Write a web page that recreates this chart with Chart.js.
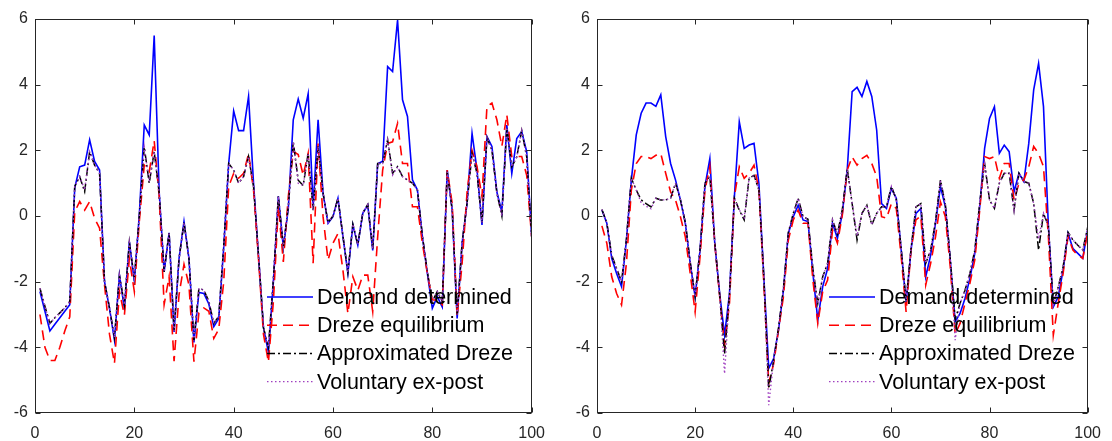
<!DOCTYPE html>
<html>
<head>
<meta charset="utf-8">
<script src="https://cdn.jsdelivr.net/npm/chart.js@4"></script>
<style>
  body { margin: 0; background: #fff; }
  .panel { position: absolute; top: 0; width: 556px; height: 441px; }
</style>
</head>
<body>
<div class="panel" style="left:0"><canvas id="leftChart" width="556" height="441"></canvas></div>
<div class="panel" style="left:556px"><canvas id="rightChart" width="556" height="441"></canvas></div>
<script>
const periods = [1,2,3,4,5,6,7,8,9,10,11,12,13,14,15,16,17,18,19,20,21,22,23,24,25,26,27,28,29,30,31,32,33,34,35,36,37,38,39,40,41,42,43,44,45,46,47,48,49,50,51,52,53,54,55,56,57,58,59,60,61,62,63,64,65,66,67,68,69,70,71,72,73,74,75,76,77,78,79,80,81,82,83,84,85,86,87,88,89,90,91,92,93,94,95,96,97,98,99,100];
const xTicks = [0, 20, 40, 60, 80, 100];
const yTicks = [-6, -4, -2, 0, 2, 4, 6];
const seriesNames = ['Demand determined', 'Dreze equilibrium', 'Approximated Dreze', 'Voluntary ex-post'];

// left panel
const demandL = [-2.3,-2.9,-3.5,-3.3,-3.1,-2.9,-2.7,0.86,1.5,1.55,2.32,1.66,1.4,-2.0,-2.81,-3.78,-1.8,-2.81,-0.78,-2.0,0.03,2.77,2.47,5.5,0.74,-1.7,-0.51,-3.53,-1.3,-0.17,-1.3,-3.85,-2.33,-2.36,-2.68,-3.37,-3.12,-0.95,1.6,3.2,2.6,2.6,3.64,1.0,-1.2,-3.4,-4.15,-2.0,0.6,-0.95,0.22,2.93,3.56,2.98,3.72,0.28,2.93,0.69,-0.22,-0.02,0.54,-0.63,-1.75,-0.27,-0.89,0.08,0.33,-1.05,1.59,1.67,4.55,4.4,5.97,3.54,3.03,1.1,0.79,-0.63,-1.75,-2.81,-2.46,-2.77,1.4,0.18,-3.12,-0.83,0.39,2.52,1.4,-0.27,2.42,2.12,0.73,0.12,2.77,1.3,2.36,2.57,1.96,-0.63];
const drezeL = [-3.0,-4.0,-4.4,-4.4,-4.0,-3.5,-3.07,0.13,0.44,0.18,0.44,-0.07,-0.37,-2.1,-3.6,-4.49,-2.3,-3.02,-1.3,-2.3,-0.17,1.55,1.35,2.29,0.6,-2.7,-1.85,-4.42,-2.4,-1.47,-2.1,-4.44,-2.95,-2.8,-2.9,-3.73,-3.45,-2.0,0.9,1.3,1.15,1.3,1.9,0.8,-1.3,-3.6,-4.45,-2.6,0.3,-1.4,0.59,1.97,1.87,1.24,1.91,-1.44,2.21,-0.02,-1.34,-0.83,-0.53,-1.65,-2.97,-1.85,-2.26,-1.8,-1.8,-2.91,-0.63,1.4,2.21,2.26,2.82,1.6,1.6,0.28,0.28,-0.83,-1.75,-2.56,-2.56,-2.7,1.4,0.38,-3.07,-1.44,0.73,2.0,1.5,0.59,3.34,3.44,2.93,2.12,3.08,1.81,1.81,1.81,1.24,-0.63];
const approxL = [-2.2,-2.75,-3.27,-3.1,-2.95,-2.8,-2.6,0.9,1.2,0.74,1.96,1.55,1.3,-2.0,-2.8,-3.7,-1.8,-2.7,-0.8,-1.9,0.0,2.1,1.0,1.96,0.7,-1.7,-0.5,-3.5,-1.3,-0.2,-1.3,-3.8,-2.2,-2.26,-2.6,-3.27,-3.05,-0.9,1.6,1.4,1.0,1.2,1.81,0.9,-1.2,-3.4,-4.0,-1.9,0.6,-0.95,0.28,2.26,1.09,0.93,1.91,0.18,2.12,0.7,-0.2,0.0,0.54,-0.6,-1.72,-0.25,-0.87,0.1,0.35,-1.0,1.6,1.6,2.32,1.3,1.5,1.2,1.1,1.0,0.79,-0.6,-1.7,-2.6,-2.3,-2.6,1.35,0.2,-3.0,-0.8,0.4,1.9,1.3,-0.2,2.4,2.0,0.7,0.0,2.7,1.5,1.8,2.6,1.8,-0.6];
const voluntaryL = [-2.2,-2.75,-3.27,-3.1,-2.95,-2.8,-2.6,0.9,1.2,0.8,1.96,1.55,1.3,-2.0,-2.8,-3.7,-1.8,-2.7,-0.8,-1.9,0.0,2.1,1.05,1.96,0.7,-1.7,-0.5,-3.5,-1.3,-0.2,-1.3,-3.8,-2.2,-2.26,-2.6,-3.27,-3.05,-0.9,1.6,1.4,1.0,1.2,1.81,0.9,-1.2,-3.4,-4.0,-1.9,0.6,-0.95,0.28,2.26,1.0,0.93,1.91,0.18,2.12,0.7,-0.2,0.0,0.54,-0.6,-1.72,-0.25,-0.87,0.1,0.35,-1.0,1.6,1.6,2.32,1.25,1.5,1.2,1.1,1.0,0.79,-0.6,-1.7,-2.6,-2.3,-2.6,1.35,0.2,-3.0,-0.8,0.4,1.9,1.3,-0.2,2.4,2.0,0.7,0.0,2.7,1.5,1.8,2.6,1.8,-0.6];

// right panel
const demandR = [0.18,-0.22,-1.29,-1.75,-2.15,-0.73,1.1,2.47,3.13,3.44,3.44,3.34,3.69,2.42,1.6,1.1,0.49,-0.22,-1.44,-2.46,-1.04,0.9,1.75,-0.83,-2.36,-3.63,-2.36,0.59,2.87,2.06,2.16,2.21,0.99,-1.85,-4.64,-4.34,-3.47,-2.26,-0.53,-0.02,0.33,-0.12,-0.17,-1.75,-3.17,-2.15,-1.6,-0.22,-0.68,0.08,1.4,3.79,3.92,3.64,4.1,3.64,2.62,0.38,0.23,0.84,0.54,-1.04,-2.66,-1.04,0.08,0.23,-1.85,-1.19,-0.22,0.9,0.28,-1.34,-3.22,-2.97,-2.51,-1.9,-1.14,0.28,2.06,2.97,3.33,1.91,2.16,1.96,0.74,1.3,1.05,2.21,3.84,4.65,3.33,-0.33,-2.77,-2.46,-1.65,-0.53,-0.99,-1.14,-1.29,-0.43];
const drezeR = [-0.3,-0.83,-1.85,-2.36,-2.71,-1.44,0.79,1.6,1.81,1.81,1.75,1.85,1.9,1.3,0.73,0.49,-0.02,-0.63,-1.75,-2.92,-1.24,0.79,1.5,-0.83,-2.45,-3.94,-2.66,0.59,1.5,1.15,1.3,1.55,0.79,-2.05,-5.1,-4.5,-3.47,-2.45,-0.73,-0.12,0.18,-0.22,-0.22,-1.95,-3.27,-2.3,-1.95,-0.43,-0.83,0.03,1.4,1.8,1.55,1.75,1.85,1.6,1.2,-0.02,-0.07,0.38,0.23,-1.24,-2.92,-1.04,-0.12,0.0,-2.1,-1.44,-0.63,0.43,-0.02,-1.55,-3.6,-3.27,-2.66,-2.05,-1.34,0.18,1.81,1.75,1.81,1.15,1.6,1.6,0.49,0.99,1.1,1.5,2.12,1.9,1.5,-0.63,-3.63,-2.66,-1.75,-0.63,-1.04,-1.19,-1.29,-0.5];
const approxR = [0.2,-0.2,-1.2,-1.6,-2.0,-0.7,1.15,0.79,0.49,0.38,0.28,0.54,0.49,0.49,0.54,1.0,0.5,-0.2,-1.4,-2.46,-1.0,1.0,1.2,-0.8,-2.4,-4.2,-2.4,0.54,0.18,-0.12,1.15,1.24,0.79,-1.85,-5.26,-4.4,-3.4,-2.2,-0.5,0.08,0.54,-0.02,-0.1,-1.6,-2.66,-1.85,-1.44,-0.12,-0.55,0.2,1.45,0.38,-0.73,0.08,0.33,-0.27,0.08,0.28,0.28,0.9,0.5,-1.0,-2.6,-1.0,0.28,0.38,-1.44,-1.04,-0.15,1.1,0.35,-1.3,-3.15,-2.66,-2.26,-1.75,-1.04,0.4,1.6,0.49,0.23,1.0,1.3,1.3,0.18,1.3,1.05,1.0,0.38,-1.04,0.08,-0.3,-2.7,-2.16,-1.55,-0.5,-0.73,-0.89,-1.04,-0.35];
const voluntaryR = [0.2,-0.2,-1.2,-1.6,-2.0,-0.7,1.15,0.79,0.4,0.3,0.22,0.54,0.49,0.49,0.54,1.0,0.5,-0.2,-1.4,-2.46,-1.0,1.0,1.2,-0.8,-2.4,-4.8,-2.4,0.54,0.18,-0.05,1.15,1.24,0.79,-1.85,-5.76,-4.4,-3.4,-2.2,-0.5,0.08,0.54,-0.02,-0.1,-1.6,-2.66,-1.85,-1.44,-0.12,-0.55,0.2,1.45,0.38,-0.6,0.08,0.33,-0.27,0.08,0.28,0.28,0.9,0.5,-1.0,-2.6,-1.0,0.28,0.38,-1.44,-1.04,-0.15,1.1,0.35,-1.3,-3.78,-2.66,-2.26,-1.75,-1.04,0.4,1.6,0.49,0.23,1.0,1.3,1.3,0.18,1.3,1.05,1.0,0.38,-0.7,0.08,-0.3,-2.7,-2.16,-1.55,-0.5,-0.73,-0.89,-1.04,-0.35];

const FONT = "'Liberation Sans', Arial, Helvetica, sans-serif";
const AXIS = '#262626';

const styles = [
  { borderColor: '#0000ff', borderWidth: 1.6, borderDash: [], order: 4 },
  { borderColor: '#ff0000', borderWidth: 1.6, borderDash: [10, 6], order: 3 },
  { borderColor: '#000000', borderWidth: 1.5, borderDash: [8, 3, 2, 3], order: 2 },
  { borderColor: '#a040c0', borderWidth: 1.4, borderDash: [1.5, 2.5], order: 1 }
];

// box around the plot with inward ticks, like the original figure
const framePlugin = {
  id: 'frame',
  afterDraw(chart) {
    const { ctx, chartArea: a, scales: { x, y } } = chart;
    ctx.save();
    ctx.strokeStyle = AXIS;
    ctx.lineWidth = 1;
    ctx.setLineDash([]);
    const L = Math.round(a.left) + 0.5, R = Math.round(a.right) - 0.5;
    const T = Math.round(a.top) + 0.5, B = Math.round(a.bottom) - 0.5;
    ctx.strokeRect(L, T, R - L, B - T);
    ctx.beginPath();
    xTicks.forEach(v => {
      const px = Math.round(x.getPixelForValue(v)) + 0.5;
      ctx.moveTo(px, B); ctx.lineTo(px, B - 5);
      ctx.moveTo(px, T); ctx.lineTo(px, T + 5);
    });
    yTicks.forEach(v => {
      const py = Math.round(y.getPixelForValue(v)) + 0.5;
      ctx.moveTo(L, py); ctx.lineTo(L + 5, py);
      ctx.moveTo(R, py); ctx.lineTo(R - 5, py);
    });
    ctx.stroke();

    // legend inside the plot, lower right, no box
    ctx.font = '21.5px ' + FONT;
    ctx.fillStyle = '#000';
    ctx.textBaseline = 'middle';
    chart.data.datasets.forEach((ds, i) => {
      const ly = a.top + 278 + i * 28.2;
      const lx = a.left + 232;
      ctx.strokeStyle = ds.borderColor;
      ctx.lineWidth = ds.borderWidth;
      ctx.setLineDash(ds.borderDash);
      ctx.beginPath();
      ctx.moveTo(lx, ly);
      ctx.lineTo(lx + 46, ly);
      ctx.stroke();
      ctx.fillText(ds.label, lx + 50, ly + 1);
    });
    ctx.restore();
  }
};

function makeChart(id, series, yWidth, padRight) {
  const ctx = document.getElementById(id).getContext('2d');
  return new Chart(ctx, {
    type: 'line',
    data: {
      labels: periods,
      datasets: series.map((vals, i) => ({
        label: seriesNames[i],
        data: vals.map((v, k) => ({ x: periods[k], y: v })),
        borderColor: styles[i].borderColor,
        borderWidth: styles[i].borderWidth,
        borderDash: styles[i].borderDash,
        order: styles[i].order,
        pointRadius: 0,
        tension: 0,
        fill: false
      }))
    },
    options: {
      responsive: false,
      animation: false,
      layout: { padding: { left: 0, right: padRight, top: 19, bottom: 0 } },
      plugins: { legend: { display: false }, tooltip: { enabled: false } },
      scales: {
        x: {
          type: 'linear', min: 0, max: 100,
          afterBuildTicks: s => { s.ticks = xTicks.map(v => ({ value: v })); },
          afterFit: s => { s.height = 28; },
          grid: { display: false, drawTicks: false },
          border: { display: false },
          ticks: { color: AXIS, font: { family: FONT, size: 16 }, padding: 11, maxRotation: 0 }
        },
        y: {
          type: 'linear', min: -6, max: 6,
          afterBuildTicks: s => { s.ticks = yTicks.map(v => ({ value: v })); },
          afterFit: s => { s.width = yWidth; },
          grid: { display: false, drawTicks: false },
          border: { display: false },
          ticks: { color: AXIS, font: { family: FONT, size: 16 }, padding: 7 }
        }
      }
    },
    plugins: [framePlugin]
  });
}

makeChart('leftChart', [demandL, drezeL, approxL, voluntaryL], 35, 24);
makeChart('rightChart', [demandR, drezeR, approxR, voluntaryR], 41, 15);
</script>
</body>
</html>
